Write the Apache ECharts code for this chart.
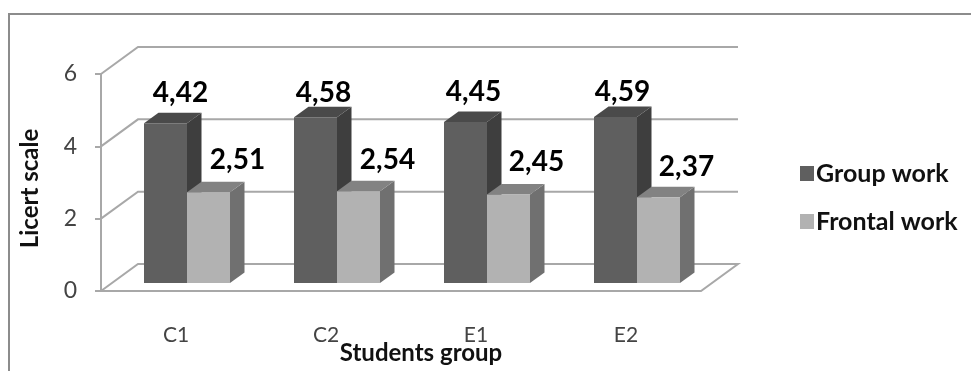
<!DOCTYPE html>
<html><head><meta charset="utf-8">
<style>html,body{margin:0;padding:0;background:#fff}#c{width:971px;height:371px}</style>
<script src="https://cdn.jsdelivr.net/npm/echarts@6/dist/echarts.min.js"></script>
</head><body><div id="c"></div>
<script>
const categories = ['C1','C2','E1','E2'];
const groupWork = [4.42,4.58,4.45,4.59];
const frontalWork = [2.51,2.54,2.45,2.37];
const yTicks = [0,2,4,6];

const FONT = 'Lato,"Open Sans",sans-serif';
const WALL = {dx:37, dy:-27};
const BAR = {width:43, dx:14.5, dy:-10.5, inX:11, inY:8};
const palette = [
  {front:'#5f5f5f', top:'#4a4a4a', side:'#3e3e3e'},
  {front:'#b2b2b2', top:'#828282', side:'#707070'}
];
const labelShift = [
  [[15,-30],[8,-24],[8,-30],[7,-25]],
  [[29,-32],[29,-31],[28,-32],[28,-30]]
];
const fmt = v => v.toFixed(2).replace('.',',');

function wallItem(params, api){
  const v = api.value(0), cs = params.coordSys;
  const y = api.coord([0,v])[1], xl = cs.x, xr = cs.x+cs.width;
  const style = {fill:'none', stroke:'#a8a8a8', lineWidth:2};
  const pts = [[xl,y],[xl+WALL.dx,y+WALL.dy],[xr+WALL.dx,y+WALL.dy]];
  if(v===0){ pts.push([xr,y],[xl,y]); }
  return {type:'polyline', shape:{points:pts}, style};
}
function barItem(s){
  return function(params, api){
    const i = api.value(0), v = api.value(1);
    const base = api.coord([i,0]), topc = api.coord([i,v]);
    const h = base[1]-topc[1];
    const x0 = base[0]+BAR.inX-BAR.width+s*BAR.width;
    const x1 = x0+BAR.width;
    const yb = base[1]-BAR.inY, yt = yb-h;
    const c = palette[s], d = labelShift[s][i];
    const poly = (pts,fill)=>({type:'polygon',shape:{points:pts},style:{fill}});
    return {type:'group',children:[
      poly([[x1,yb],[x1+BAR.dx,yb+BAR.dy],[x1+BAR.dx,yt+BAR.dy],[x1,yt]],c.side),
      poly([[x0,yt],[x1,yt],[x1+BAR.dx,yt+BAR.dy],[x0+BAR.dx,yt+BAR.dy]],c.top),
      {type:'rect',shape:{x:x0,y:yt,width:BAR.width,height:h},style:{fill:c.front}},
      {type:'text',z2:10,style:{x:(x0+x1)/2+d[0],y:yt+d[1],text:fmt(v),align:'center',verticalAlign:'middle',
        fill:'#000',font:'bold 28px '+FONT}}
    ]};
  };
}
const chart = echarts.init(document.getElementById('c'),null,{renderer:'canvas'});
chart.setOption({
  animation:false, backgroundColor:'#fff',
  grid:{left:101,top:74,width:600,height:217,outerBoundsMode:'none'},
  legend:{orient:'vertical',left:795,top:156,itemWidth:14,itemHeight:15,itemGap:23,icon:'rect',
    data:['Group work','Frontal work'],
    textStyle:{fontFamily:FONT,fontSize:25,fontWeight:'bold',color:'#111',padding:[0,0,0,-3]}},
  xAxis:{type:'category',data:categories,
    name:'Students group',nameLocation:'middle',nameGap:50,nameMoveOverlap:false,
    nameTextStyle:{fontFamily:FONT,fontSize:24,fontWeight:'bold',color:'#111',padding:[0,0,0,40]},
    axisLine:{show:false},axisTick:{show:false},
    axisLabel:{margin:34,fontFamily:FONT,fontSize:21,color:'#444'}},
  yAxis:{type:'value',min:0,max:6,interval:2,
    name:'Licert scale',nameLocation:'middle',nameGap:59,
    nameTextStyle:{fontFamily:FONT,fontSize:24,fontWeight:'bold',color:'#111',padding:[0,12,0,0]},
    axisLine:{show:true,lineStyle:{color:'#a8a8a8',width:2}},
    axisTick:{show:true,length:6,lineStyle:{color:'#a8a8a8',width:2}},
    splitLine:{show:false},
    axisLabel:{margin:24,fontFamily:FONT,fontSize:23,color:'#444'}},
  graphic:[{type:'rect',silent:true,z:-1,shape:{x:9,y:14,width:1000,height:400},
    style:{fill:'#fff',stroke:'#8c8c8c',lineWidth:2}}],
  series:[
    {type:'custom',name:'walls',silent:true,z:1,renderItem:wallItem,data:yTicks.map(v=>[v]),encode:{x:-1,y:0},clip:false},
    {type:'custom',name:'Group work',z:2,renderItem:barItem(0),itemStyle:{color:palette[0].front},
      data:groupWork.map((v,i)=>[i,v]),encode:{x:0,y:1},clip:false},
    {type:'custom',name:'Frontal work',z:3,renderItem:barItem(1),itemStyle:{color:palette[1].front},
      data:frontalWork.map((v,i)=>[i,v]),encode:{x:0,y:1},clip:false}
  ]
});
</script></body></html>
